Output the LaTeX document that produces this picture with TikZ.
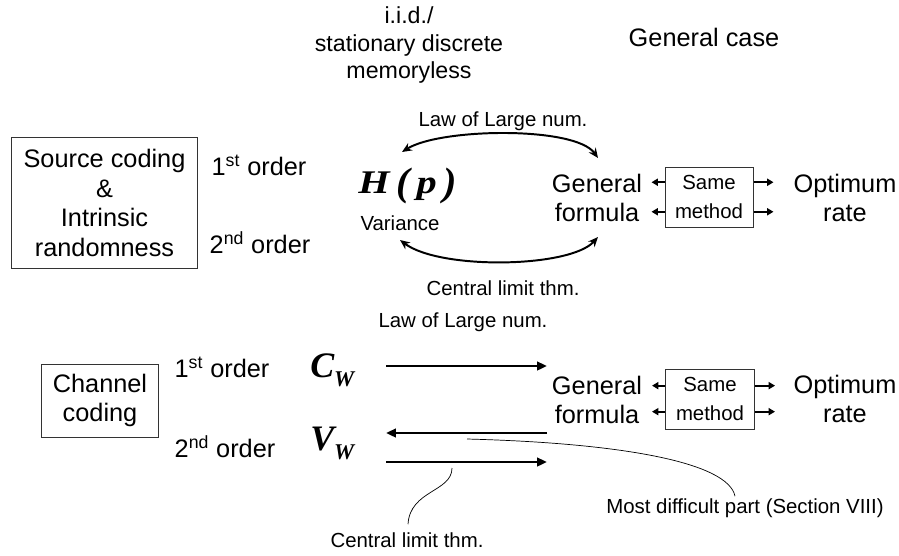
\documentclass[tikz,border=0pt]{standalone}
\usepackage{fontspec}
\usepackage{graphicx}
\setmainfont{Liberation Sans}
\newfontfamily\symfont{Liberation Serif}
\usetikzlibrary{arrows.meta, positioning, calc}
\definecolor{boxLine}{HTML}{333333}
\tikzset{
  big/.style={font=\fontsize{18}{21}\selectfont, inner sep=0pt, align=center},
  mid/.style={font=\fontsize{16.5}{19.6}\selectfont, inner sep=0pt, align=center},
  small/.style={font=\fontsize{14.5}{20.6}\selectfont, inner sep=0pt, align=center},
  sym/.style={font=\symfont\bfseries\itshape\fontsize{25.5}{26}\selectfont, inner sep=0pt},
  frame/.style={draw=boxLine, line width=0.7pt},
  bowarr/.style={line width=1.4pt, {Stealth[length=7pt, width=6pt]}-{Stealth[length=7pt, width=6pt]}},
  bararr/.style={line width=1.9pt, -{Triangle[length=7pt, width=6pt]}},
  tinyarr/.style={line width=1.5pt, -{Triangle[length=4.5pt, width=5pt]}},
  thinline/.style={line width=0.5pt}
}
\newcommand{\subW}{\raisebox{-7pt}{\fontsize{16}{16}\selectfont W}}
\newcommand{\tallp}[1]{\raisebox{-1.5pt}{\scalebox{1}[1.2]{#1}}}
\begin{document}
\begin{tikzpicture}[x=0.025cm, y=-0.025cm]
  \useasboundingbox (0,0) rectangle (899,555);
  % headings
  \node[mid] (iid) at (409,45) {i.i.d./\\stationary discrete\\memoryless};
  \node[big] (gcase) at (704,37) {General case};
  % source coding
  \node[big, frame, minimum width=4.625cm, minimum height=3.25cm] (src) at (104.5,203)
    {Source coding\\\&\\Intrinsic\\randomness};
  \node[big] (ord1s) at (259,165) {1\textsuperscript{st} order};
  \node[big] (ord2s) at (260,243) {2\textsuperscript{nd} order};
  \node[sym, font=\symfont\bfseries\itshape\fontsize{23.5}{24}\selectfont, anchor=base west] (hp) at (358,193)
    {\scalebox{1.22}[1]{H\,\tallp{(}\,p\,\tallp{)}}};
  \node[small] (var) at (400,223) {Variance};
  \node[big] (gen1) at (597,198) {General\\formula};
  \node[small, frame, minimum width=2.2cm, minimum height=1.5cm] (same1) at (709,197) {Same\\method};
  \node[big] (opt1) at (845,198) {Optimum\\rate};
  \node[small] (lln1) at (503,121) {Law of Large num.};
  \node[small] (clt1) at (503,288) {Central limit thm.};
  % bows
  \coordinate (hpTop) at (402,152);
  \coordinate (genTop) at (598,158);
  \coordinate (hpBot) at (400,240);
  \coordinate (genBot) at (598,237);
  \draw[bowarr] (hpTop) .. controls (440,128) and (575,126) .. (genTop);
  \draw[bowarr] (hpBot) .. controls (440,270) and (570,268) .. (genBot);
  % same method arrows
  \draw[tinyarr] ([yshift=10.5pt]same1.west) -- ++(-13,0);
  \draw[tinyarr] ([yshift=-10.5pt]same1.west) -- ++(-13,0);
  \draw[tinyarr] ([yshift=10.5pt]same1.east) -- ++(20,0);
  \draw[tinyarr] ([yshift=-10.5pt]same1.east) -- ++(20,0);

  % channel coding
  \node[small] (lln2) at (463,322) {Law of Large num.};
  \node[big, frame, minimum width=2.9cm, minimum height=1.825cm] (chan) at (100,400.5) {Channel\\coding};
  \node[big] (ord1c) at (222,367) {1\textsuperscript{st} order};
  \node[big] (ord2c) at (225,447) {2\textsuperscript{nd} order};
  \node[sym, anchor=base west] (cw) at (310,377) {C\subW};
  \node[sym, anchor=base west] (vw) at (310,450) {V\subW};
  \node[big] (gen2) at (597,400) {General\\formula};
  \node[small, frame, minimum width=2.225cm, minimum height=1.5cm] (same2) at (710,399) {Same\\method};
  \node[big] (opt2) at (845,399) {Optimum\\rate};
  \node[small] (hard) at (745,508) {Most difficult part (Section VIII)};
  \node[small] (clt2) at (407,540) {Central limit thm.};
  % bars
  \coordinate (cwA) at (386,366);
  \coordinate (cwB) at (547,366);
  \coordinate (vwA) at (386,433);
  \coordinate (vwB) at (547,433);
  \coordinate (vwC) at (386,462);
  \coordinate (vwD) at (547,462);
  \draw[bararr] (cwA) -- (cwB);
  \draw[bararr] (vwB) -- (vwA);
  \draw[bararr] (vwC) -- (vwD);
  \draw[tinyarr] ([yshift=9.5pt]same2.west) -- ++(-13,0);
  \draw[tinyarr] ([yshift=-9pt]same2.west) -- ++(-13,0);
  \draw[tinyarr] ([yshift=9.5pt]same2.east) -- ++(20,0);
  \draw[tinyarr] ([yshift=-9pt]same2.east) -- ++(20,0);
  % pointers
  \coordinate (hardTip) at (467,439);
  \coordinate (cltTip) at (452,468);
  \draw[thinline] (hardTip) .. controls (620,443) and (728,462) .. ($(hard.north)+(-10,-2)$);
  \draw[thinline] (cltTip) .. controls (452,492) and (410,490) .. ($(clt2.north)+(1,-8)$);
\end{tikzpicture}
\end{document}
